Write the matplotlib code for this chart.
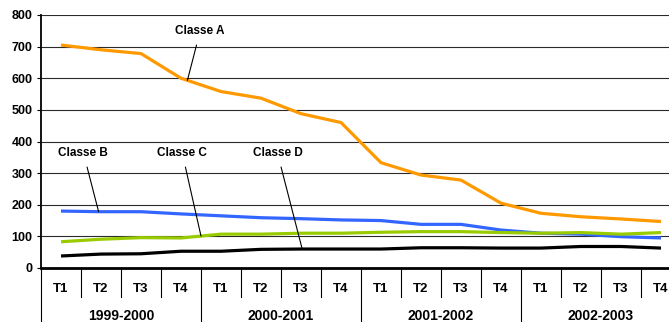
import numpy as np
import matplotlib
matplotlib.use('Agg')
import matplotlib.pyplot as plt
from matplotlib.transforms import blended_transform_factory

plt.rcParams['font.family'] = ['Liberation Sans', 'DejaVu Sans']
plt.rcParams['font.weight'] = 'bold'

years = ['1999-2000', '2000-2001', '2001-2002', '2002-2003']
quarters = ['T1', 'T2', 'T3', 'T4']

classe_a = [705, 690, 678, 600, 558, 537, 488, 460,
            333, 294, 278, 205, 173, 162, 155, 147]
classe_b = [180, 178, 178, 171, 165, 159, 156, 152,
            150, 138, 138, 120, 110, 107, 99, 95]
classe_c = [83, 91, 96, 95, 107, 107, 110, 110,
            113, 115, 115, 112, 110, 112, 107, 112]
classe_d = [38, 44, 45, 53, 53, 59, 60, 60,
            60, 64, 64, 63, 63, 68, 68, 63]

series = [
    ('Classe A', classe_a, '#FF9900'),
    ('Classe B', classe_b, '#3366FF'),
    ('Classe C', classe_c, '#99CC00'),
    ('Classe D', classe_d, '#000000'),
]

W, H = 669, 322
fig = plt.figure(figsize=(W / 100, H / 100), dpi=100)
# plot area runs past the right border, like the original export
ax = fig.add_axes([41 / W, (H - 268) / H, 640 / W, 253 / H])

x = np.arange(len(classe_a))
for name, vals, color in series:
    ax.plot(x, vals, color=color, linewidth=2.3, solid_capstyle='butt', zorder=3)

ax.set_xlim(-0.5, len(x) - 0.5)
ax.set_ylim(0, 800)
ax.set_yticks(np.arange(0, 801, 100))
ax.yaxis.grid(True, color='#2a2a2a', linewidth=0.8)
ax.set_axisbelow(True)
ax.tick_params(axis='y', length=3, width=0.8, labelsize=9, pad=3)
ax.tick_params(axis='x', length=0, labelsize=9.5, pad=11)
ax.set_xticks(x)
ax.set_xticklabels(quarters * len(years))
for lab in ax.get_xticklabels() + ax.get_yticklabels():
    lab.set_fontweight('bold')

for side in ['top', 'right']:
    ax.spines[side].set_visible(False)
ax.spines['left'].set_linewidth(1.3)
ax.spines['bottom'].set_linewidth(2)

# two-level category axis: quarter separators and year separators
trans = blended_transform_factory(ax.transData, ax.transAxes)
quarter_depth = -29 / 253
year_depth = -60 / 253
for i in range(len(x) + 1):
    depth = year_depth if i % 4 == 0 else quarter_depth
    ax.plot([i - 0.5, i - 0.5], [0, depth], color='black', linewidth=0.8,
            transform=trans, clip_on=False)
for k, year in enumerate(years):
    ax.text(4 * k + 1.5, -48 / 253, year, transform=trans, ha='center',
            va='center', fontsize=10, fontweight='bold')

# series labels with pointer lines
labels = [
    ('Classe A', (3.48, 750), 3.16, classe_a),
    ('Classe B', (0.56, 364), 0.94, classe_b),
    ('Classe C', (3.03, 364), 3.5, classe_c),
    ('Classe D', (5.41, 364), 6.03, classe_d),
]
for name, xytext, xp, vals in labels:
    ax.annotate(name, xy=(xp, np.interp(xp, x, vals)), xytext=xytext,
                ha='center', va='center', fontsize=8.5, fontweight='bold',
                arrowprops=dict(arrowstyle='-', color='black', linewidth=0.8,
                                shrinkA=4, shrinkB=0))

fig.savefig('out.png', dpi=100)
